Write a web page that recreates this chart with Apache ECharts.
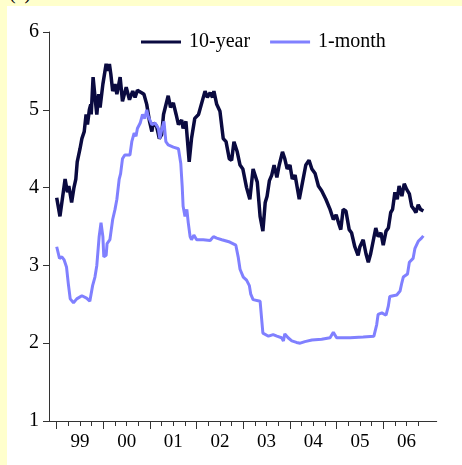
<!DOCTYPE html>
<html>
<head>
<meta charset="utf-8">
<script src="https://cdn.jsdelivr.net/npm/echarts@6/dist/echarts.min.js"></script>
<style>
html,body{margin:0;padding:0;background:#FFFFCC;}
#c{position:absolute;left:7px;top:6px;width:455px;height:459px;background:#fff;}
#tag{position:absolute;left:9px;top:-19px;font-family:'Liberation Serif';font-size:20px;color:#000;}
</style>
</head>
<body>
<div id="tag">(a)</div>
<div id="c"></div>
<script>
// decimal years (1999.00 = start of 1999)
const t10 = [0.00,0.07,0.18,0.23,0.26,0.32,0.37,0.41,0.44,0.50,0.54,0.59,0.63,0.66,0.70,0.73,0.74,0.78,0.83,0.86,0.90,0.93,0.99,1.06,1.10,1.13,1.16,1.20,1.25,1.29,1.36,1.41,1.49,1.56,1.63,1.68,1.73,1.82,1.87,1.93,1.99,2.04,2.07,2.14,2.20,2.25,2.29,2.39,2.44,2.50,2.56,2.61,2.68,2.71,2.77,2.84,2.89,2.96,3.04,3.07,3.18,3.23,3.29,3.34,3.37,3.43,3.50,3.57,3.63,3.70,3.75,3.80,3.87,3.93,3.99,4.07,4.14,4.21,4.30,4.36,4.42,4.47,4.51,4.56,4.61,4.66,4.72,4.77,4.84,4.89,4.94,5.00,5.05,5.11,5.20,5.27,5.34,5.41,5.47,5.54,5.61,5.68,5.77,5.86,5.93,5.99,6.04,6.09,6.14,6.20,6.27,6.32,6.39,6.46,6.50,6.57,6.63,6.68,6.73,6.79,6.84,6.89,6.95,7.00,7.06,7.11,7.16,7.20,7.25,7.30,7.34,7.40,7.45,7.50,7.56,7.61,7.66,7.70,7.75,7.80,7.86];
const tenYear = [3.87,3.63,4.11,3.94,4.02,3.81,4.00,4.11,4.33,4.50,4.63,4.72,4.94,4.81,5.00,5.07,4.94,5.42,5.11,4.94,5.20,5.03,5.33,5.59,5.50,5.59,5.46,5.24,5.33,5.20,5.42,5.11,5.29,5.13,5.24,5.16,5.25,5.22,5.20,5.07,4.85,4.72,4.83,4.79,4.63,4.68,4.94,5.18,5.03,5.09,4.94,4.81,4.87,4.76,4.85,4.33,4.63,4.89,4.94,4.94,5.24,5.16,5.22,5.16,5.24,5.07,4.98,4.63,4.59,4.37,4.35,4.59,4.46,4.29,4.24,4.00,3.85,4.24,4.07,3.63,3.44,3.81,3.89,4.09,4.16,4.29,4.13,4.29,4.46,4.37,4.24,4.29,4.11,4.16,3.85,4.07,4.29,4.35,4.24,4.18,4.02,3.96,3.85,3.72,3.59,3.65,3.55,3.46,3.72,3.70,3.46,3.42,3.24,3.13,3.24,3.33,3.15,3.04,3.15,3.33,3.48,3.37,3.42,3.26,3.44,3.48,3.68,3.72,3.94,3.85,4.02,3.89,4.05,3.98,3.92,3.76,3.72,3.68,3.78,3.72,3.70];
const t1m = [0.00,0.06,0.11,0.16,0.21,0.25,0.29,0.36,0.43,0.54,0.64,0.71,0.77,0.82,0.86,0.91,0.95,0.99,1.01,1.06,1.08,1.14,1.20,1.25,1.29,1.34,1.37,1.41,1.46,1.57,1.61,1.66,1.70,1.73,1.79,1.84,1.89,1.93,1.96,2.04,2.11,2.18,2.21,2.25,2.30,2.34,2.39,2.50,2.61,2.66,2.69,2.71,2.75,2.79,2.82,2.86,2.89,2.94,3.00,3.14,3.29,3.36,3.43,3.54,3.71,3.84,3.89,3.93,4.00,4.07,4.13,4.16,4.21,4.36,4.42,4.54,4.64,4.72,4.82,4.86,4.89,4.96,5.04,5.14,5.22,5.32,5.47,5.68,5.86,5.93,6.00,6.29,6.57,6.80,6.86,6.89,6.97,7.06,7.11,7.14,7.29,7.36,7.40,7.43,7.52,7.56,7.64,7.68,7.75,7.82,7.86];
const oneMonth = [3.24,3.09,3.11,3.07,2.98,2.76,2.57,2.52,2.57,2.61,2.58,2.54,2.74,2.85,3.00,3.37,3.55,3.37,3.11,3.13,3.28,3.33,3.59,3.72,3.85,4.11,4.18,4.37,4.42,4.42,4.59,4.70,4.66,4.76,4.83,4.94,4.89,5.00,4.92,4.81,4.83,4.76,4.63,4.74,4.85,4.59,4.55,4.52,4.50,4.31,4.02,3.76,3.63,3.72,3.55,3.37,3.33,3.39,3.33,3.33,3.32,3.37,3.35,3.33,3.30,3.26,3.11,2.95,2.85,2.81,2.74,2.63,2.56,2.54,2.13,2.09,2.11,2.09,2.07,2.03,2.12,2.07,2.03,2.01,2.00,2.02,2.04,2.05,2.07,2.14,2.07,2.07,2.08,2.09,2.24,2.37,2.39,2.36,2.48,2.60,2.62,2.67,2.78,2.85,2.89,3.04,3.09,3.22,3.31,3.35,3.38];
const yearTicks = [1999,2000,2001,2002,2003,2004,2005,2006];
const yearLabels = ['99','00','01','02','03','04','05','06'];
const seriesNames = ['10-year','1-month'];

const base = 1999;
const d10 = t10.map((t,i)=>[base+t, tenYear[i]]);
const d1m = t1m.map((t,i)=>[base+t, oneMonth[i]]);
const quarterTicks = [];
yearTicks.forEach(y=>{quarterTicks.push(y+0.25,y+0.5,y+0.75);});
const labelPos = yearTicks.map(y=>y+0.5);
const xmin = 1998.835, xmax = 2007.146;
const font = 'Liberation Serif';

const chart = echarts.init(document.getElementById('c'), null, {renderer:'canvas'});
chart.setOption({
  animation:false,
  backgroundColor:'#fff',
  grid:{left:42, right:25.3, top:26, bottom:44},
  legend:{
    data:seriesNames.map(n=>({name:n, icon:'rect'})),
    left:129, top:21,
    itemWidth:40, itemHeight:3, itemGap:20,
    textStyle:{fontFamily:font, fontSize:20, color:'#000', padding:[0,0,0,3]}
  },
  xAxis:[{
    type:'value', min:xmin, max:xmax,
    axisLine:{show:true, lineStyle:{color:'#333', width:1}},
    axisTick:{show:true, customValues:yearTicks, length:8, lineStyle:{color:'#333'}},
    axisLabel:{show:true, customValues:labelPos, margin:12, fontFamily:font, fontSize:19, color:'#000',
      formatter:function(v){ const i = labelPos.findIndex(p=>Math.abs(p-v)<1e-6); return i>=0?yearLabels[i]:''; }},
    splitLine:{show:false}
  },{
    type:'value', min:xmin, max:xmax, position:'bottom',
    axisLine:{show:false},
    axisTick:{show:true, customValues:quarterTicks, length:5, lineStyle:{color:'#333'}},
    axisLabel:{show:false},
    splitLine:{show:false}
  }],
  yAxis:{
    type:'value', min:1, max:6, interval:1,
    axisLine:{show:true, lineStyle:{color:'#333', width:1}},
    axisTick:{show:true, length:6, lineStyle:{color:'#333'}},
    axisLabel:{margin:10, fontFamily:font, fontSize:20, color:'#000'},
    splitLine:{show:false}
  },
  series:[
    {name:seriesNames[0], type:'line', data:d10, showSymbol:false, symbol:'none',
     lineStyle:{color:'#0A0A40', width:3.5}, itemStyle:{color:'#0A0A40'}},
    {name:seriesNames[1], type:'line', data:d1m, showSymbol:false, symbol:'none',
     lineStyle:{color:'#8080FF', width:3}, itemStyle:{color:'#8080FF'}}
  ]
});
</script>
</body>
</html>
